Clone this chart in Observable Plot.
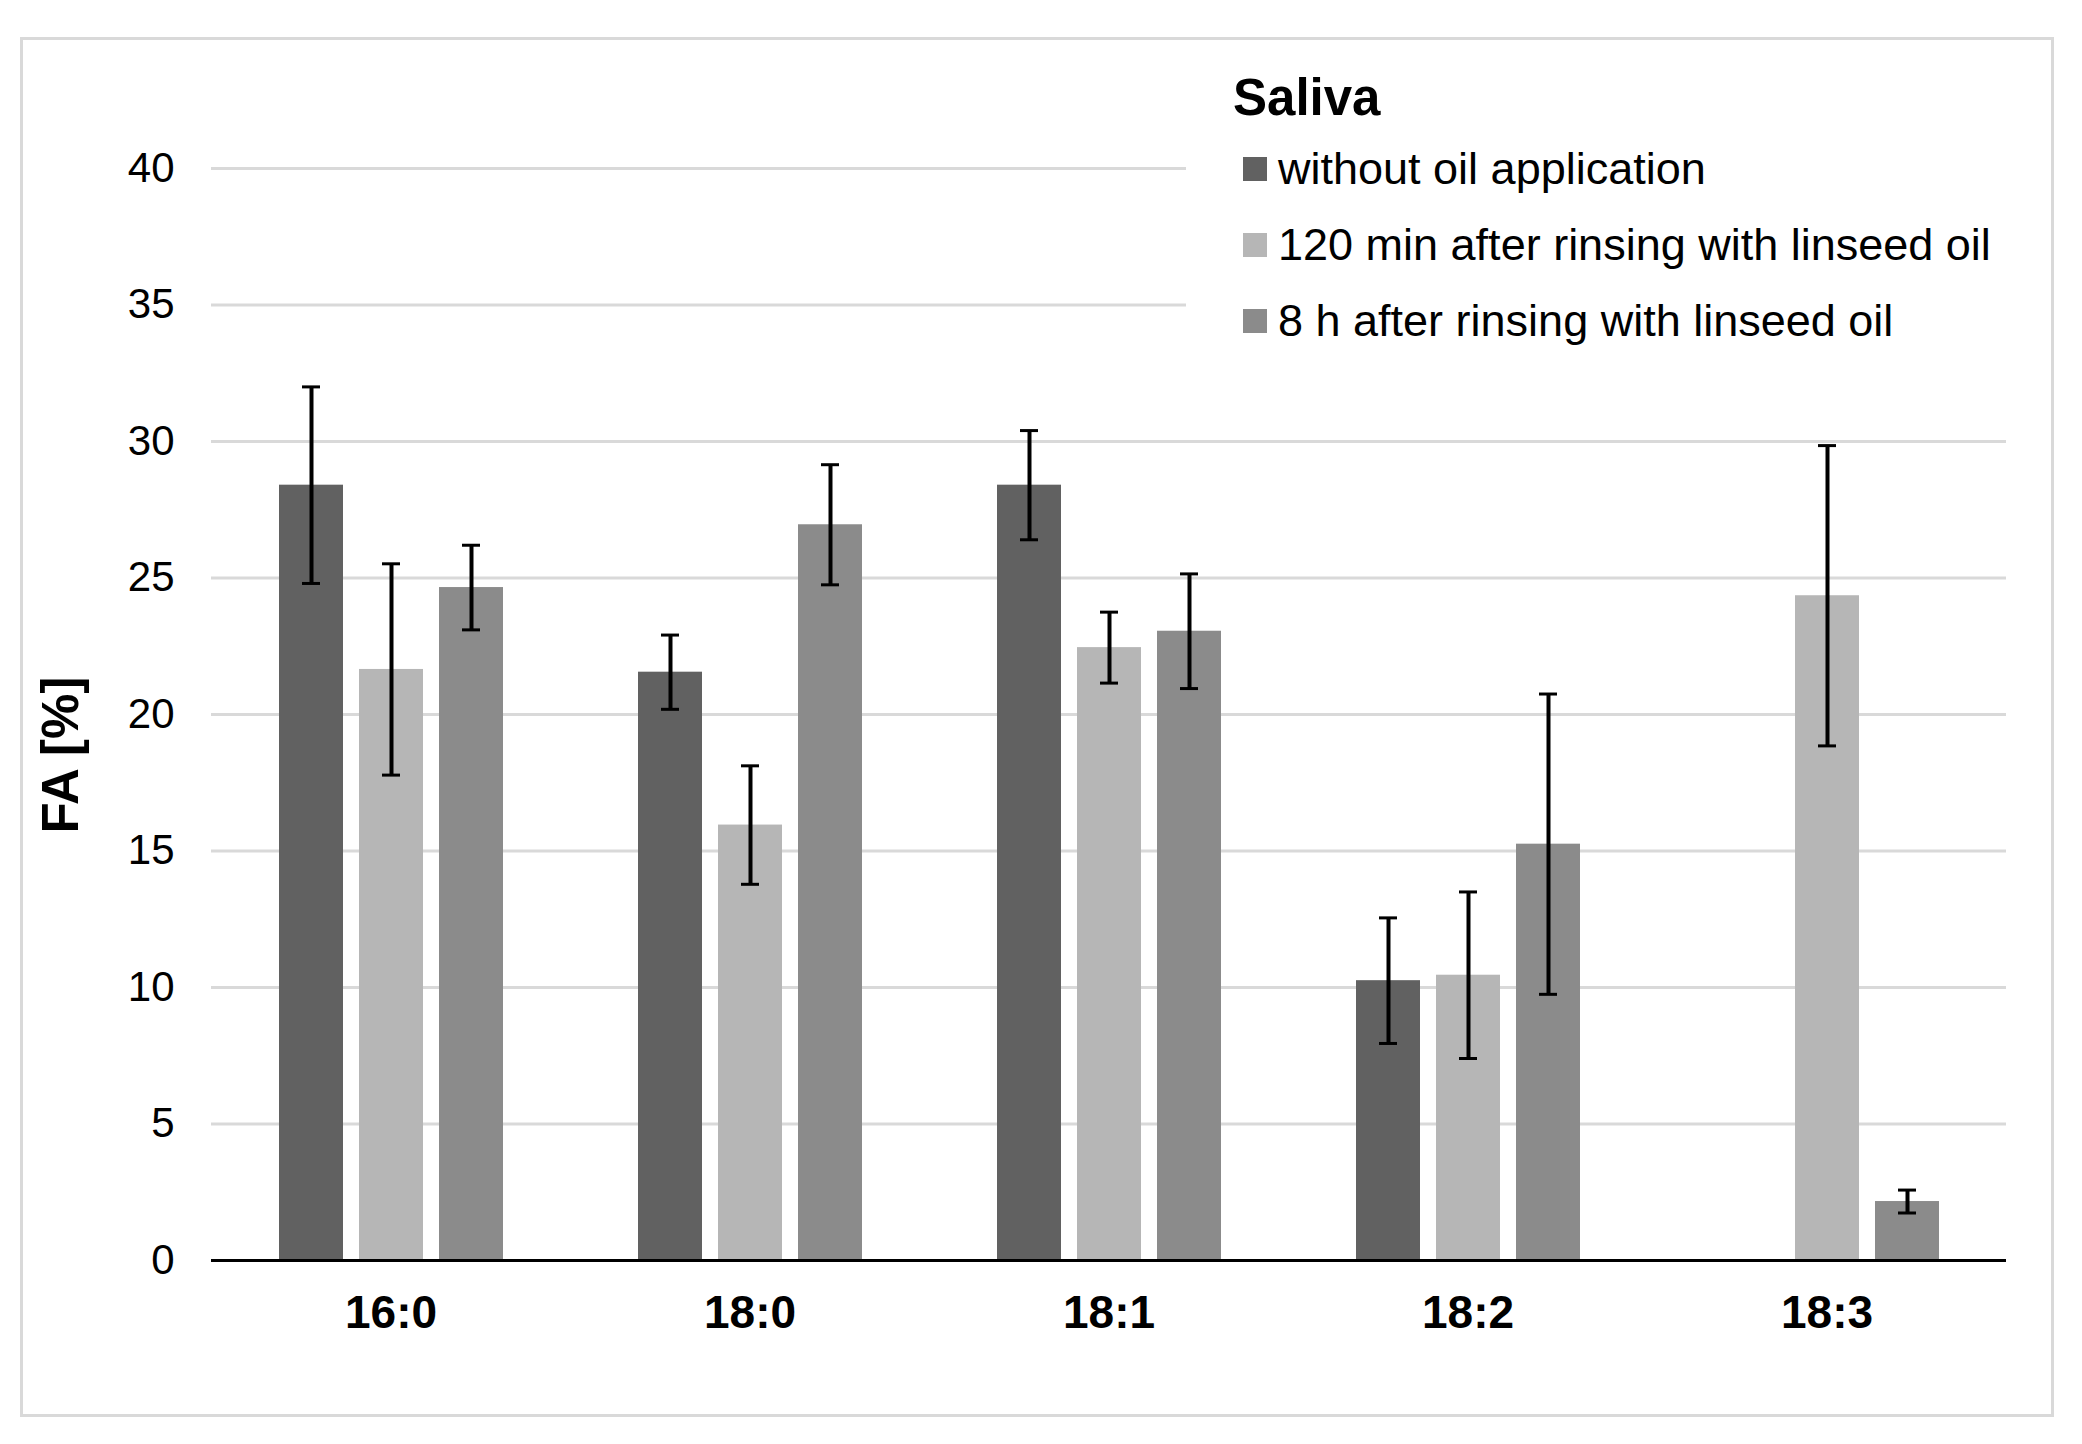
<!DOCTYPE html>
<html>
<head>
<meta charset="utf-8">
<script src="https://cdn.jsdelivr.net/npm/d3@7"></script>
<script src="https://cdn.jsdelivr.net/npm/@observablehq/plot@0.6"></script>
<style>
  html, body { margin: 0; padding: 0; background: #fff; }
  body { width: 2082px; height: 1444px; position: relative; overflow: hidden;
         font-family: "Liberation Sans", Arial, sans-serif; color: #000; }
  #chart { position: absolute; left: 0; top: 0; }
  #chart svg [aria-label^="fx-axis"] text { font-weight: bold; font-size: 46px; }
  #chart svg [aria-label^="y-axis"] text { font-size: 42px; }
  .frame { position: absolute; left: 20px; top: 37px; width: 2028px; height: 1374px;
           border: 3px solid #d9d9d9; pointer-events: none; }
  .legend { position: absolute; left: 1186px; top: 55px; width: 835px; height: 325px; background: #fff; }
  .legend .title { position: absolute; left: 47px; top: 17px; font-size: 51px; line-height: 51px; font-weight: bold; white-space: nowrap; }
  .legend .item { position: absolute; left: 57px; height: 45px; font-size: 45px; line-height: 45px; white-space: nowrap; }
  .legend .sw { position: absolute; left: 0; top: 11px; width: 24px; height: 24px; }
  .legend .lab { position: absolute; left: 35px; top: 0; }
  .ylabel { position: absolute; left: 60px; top: 755px; transform: translate(-50%, -50%) rotate(-90deg);
            font-size: 51px; line-height: 51px; font-weight: bold; white-space: nowrap; }
</style>
</head>
<body>
<div id="chart"></div>
<div class="ylabel">FA [%]</div>
<div class="legend" id="legend"></div>
<div class="frame"></div>
<script>
const categories = ["16:0", "18:0", "18:1", "18:2", "18:3"];
const series = [
  "without oil application",
  "120 min after rinsing with linseed oil",
  "8 h after rinsing with linseed oil"
];
const colors = ["#616161", "#b6b6b6", "#8b8b8b"];
const legendTitle = "Saliva";

// mean values per series (same order as categories)
const meanWithout = [28.4, 21.55, 28.4, 10.25, null];
const mean120min  = [21.65, 15.95, 22.45, 10.45, 24.35];
const mean8h      = [24.65, 26.95, 23.05, 15.25, 2.16];

// standard deviations (error bars)
const sdWithout = [3.6, 1.36, 2.0, 2.3, null];
const sd120min  = [3.87, 2.17, 1.3, 3.05, 5.5];
const sd8h      = [1.55, 2.2, 2.1, 5.5, 0.42];

const yTicks = [0, 5, 10, 15, 20, 25, 30, 35, 40];

const means = [meanWithout, mean120min, mean8h];
const sds = [sdWithout, sd120min, sd8h];
const rows = [];
series.forEach((s, i) => {
  categories.forEach((c, j) => {
    const m = means[i][j];
    if (m == null) return;
    const sd = sds[i][j];
    rows.push({cat: c, series: s, mean: m, lo: m - sd, hi: m + sd});
  });
});

const chart = Plot.plot({
  width: 2082,
  height: 1444,
  marginLeft: 210,
  marginRight: 75,
  marginTop: 168,
  marginBottom: 184,
  style: {fontFamily: "Liberation Sans, Arial, sans-serif", fontSize: "42px", background: "transparent", color: "#000"},
  fx: {domain: categories, padding: 0, axis: "bottom", tickSize: 0, tickPadding: 35, label: null},
  x: {domain: series, axis: null, paddingInner: 0.2, paddingOuter: 0.841},
  y: {domain: [0, 40], ticks: yTicks, tickSize: 0, tickPadding: 37, label: null, tickFormat: d3.format("d")},
  color: {domain: series, range: colors},
  marks: [
    Plot.ruleY(yTicks.filter(d => d > 0), {stroke: "#d9d9d9", strokeWidth: 3}),
    Plot.barY(rows, {fx: "cat", x: "series", y: "mean", fill: "series"}),
    Plot.ruleX(rows, {fx: "cat", x: "series", y1: "lo", y2: "hi", stroke: "#000", strokeWidth: 4}),
    Plot.tickY(rows, {fx: "cat", x: "series", y: "lo", stroke: "#000", strokeWidth: 3, insetLeft: 23, insetRight: 23}),
    Plot.tickY(rows, {fx: "cat", x: "series", y: "hi", stroke: "#000", strokeWidth: 3, insetLeft: 23, insetRight: 23}),
    Plot.ruleY([0], {stroke: "#000", strokeWidth: 3})
  ]
});
document.getElementById("chart").appendChild(chart);

// legend
const legend = document.getElementById("legend");
const t = document.createElement("div");
t.className = "title";
t.textContent = legendTitle;
legend.appendChild(t);
series.forEach((s, i) => {
  const it = document.createElement("div");
  it.className = "item";
  it.style.top = (91 + i * 76) + "px";
  const sw = document.createElement("div");
  sw.className = "sw";
  sw.style.background = colors[i];
  const lab = document.createElement("div");
  lab.className = "lab";
  lab.textContent = s;
  it.appendChild(sw);
  it.appendChild(lab);
  legend.appendChild(it);
});
</script>
</body>
</html>
